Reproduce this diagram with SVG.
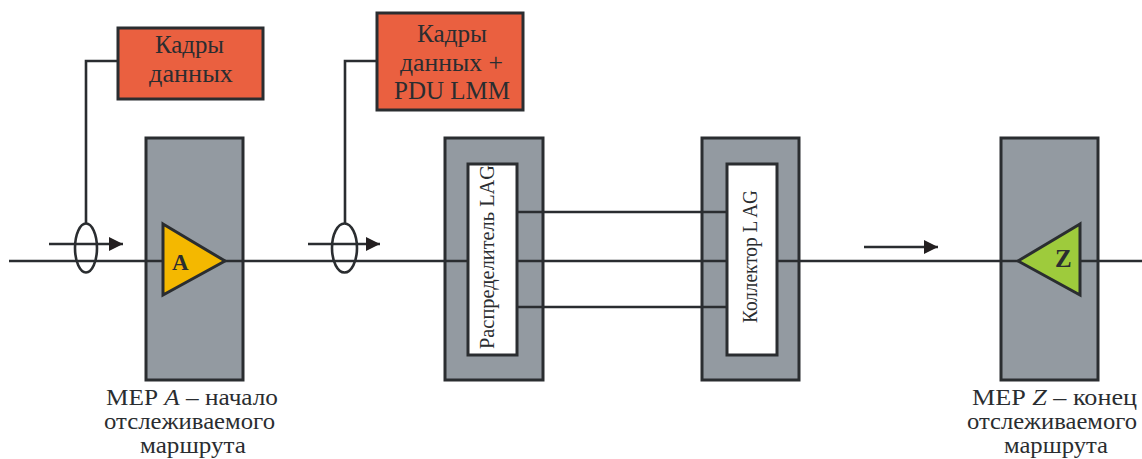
<svg xmlns="http://www.w3.org/2000/svg" width="1142" height="459" viewBox="0 0 1142 459">
<defs>
<marker id="arr" markerUnits="userSpaceOnUse" markerWidth="15" markerHeight="14" refX="14" refY="7" orient="auto"><path d="M0 0L14 7L0 14Z" fill="#231f20"/></marker>
</defs>
<style>
.box{fill:#939aa1;stroke:#2a2d30;stroke-width:3}
.tag{fill:#ea6040;stroke:#2a2d30;stroke-width:3}
.in{fill:#fff;stroke:#2a2d30;stroke-width:3}
.ln{fill:none;stroke:#2a2d30;stroke-width:2.4}
.lw{fill:none;stroke:#2a2d30;stroke-width:2.6}
.t{font-family:"Liberation Serif",serif;font-size:25px;fill:#2a2d30}
.s{font-size:23px}
.v{font-family:"Liberation Serif",serif;font-size:20px;fill:#2a2d30}
.b{font-family:"Liberation Serif",serif;font-weight:bold;fill:#2a2d30}
</style>
<g id="node-a-box"><rect class="box" x="146" y="138" width="97" height="242"/></g>
<g id="node-dist-box"><rect class="box" x="445" y="138" width="98" height="242"/></g>
<g id="node-coll-box"><rect class="box" x="702" y="138" width="97" height="242"/></g>
<g id="node-z-box"><rect class="box" x="1001" y="138" width="97" height="242"/></g>
<g id="connectors">
<path class="ln" d="M9 261H163M225 261H468M517 261H727M777 261H1018M1080 261H1142"/>
<path class="ln" d="M517 212H727M517 307H727"/>
<path class="lw" d="M118 61H86V224M377 61H345V224"/>
<path class="lw" d="M49 244H123" marker-end="url(#arr)"/>
<path class="lw" d="M308 244H380" marker-end="url(#arr)"/>
<path class="lw" d="M864 247H938" marker-end="url(#arr)"/>
</g>
<g id="ring-a"><ellipse class="lw" cx="86" cy="248" rx="11" ry="24.500"/></g>
<g id="ring-b"><ellipse class="lw" cx="344.500" cy="248" rx="12.500" ry="24.500"/></g>
<g id="tag-a"><rect class="tag" x="118" y="28" width="145" height="71"/><text class="t" x="155" y="53" textLength="69" lengthAdjust="spacingAndGlyphs">Кадры</text><text class="t" x="149" y="82" textLength="84" lengthAdjust="spacingAndGlyphs">данных</text></g>
<g id="tag-b"><rect class="tag" x="377" y="13" width="146" height="97"/><text class="t" x="417" y="42" textLength="70" lengthAdjust="spacingAndGlyphs">Кадры</text><text class="t" x="400" y="71" textLength="103" lengthAdjust="spacingAndGlyphs">данных +</text><text class="t" x="394" y="99" textLength="116" lengthAdjust="spacingAndGlyphs">PDU LMM</text></g>
<g id="node-a"><path d="M163 224L225 261L163 295Z" fill="#f4b800" stroke="#2a2d30" stroke-width="3"/><text class="b" x="172" y="270" font-size="23">A</text></g>
<g id="node-z"><path d="M1080 224L1018 261L1080 295Z" fill="#9ecb3c" stroke="#2a2d30" stroke-width="3"/><text class="b" x="1055" y="267" font-size="25">Z</text></g>
<g id="node-dist"><rect class="in" x="468" y="164" width="49" height="191"/><text class="v" transform="translate(494 349) rotate(-90)" textLength="184" lengthAdjust="spacingAndGlyphs">Распределитель LAG</text></g>
<g id="node-coll"><rect class="in" x="727" y="164" width="50" height="191"/><text class="v" transform="translate(757 323) rotate(-90)" textLength="133" lengthAdjust="spacingAndGlyphs">Коллектор L AG</text></g>
<g id="label-a"><text class="t s" x="106" y="405" textLength="172" lengthAdjust="spacingAndGlyphs">МЕР <tspan font-style="italic">A</tspan> – начало</text><text class="t s" x="104" y="429" textLength="171" lengthAdjust="spacingAndGlyphs">отслеживаемого</text><text class="t s" x="140" y="453" textLength="106" lengthAdjust="spacingAndGlyphs">маршрута</text></g>
<g id="label-z"><text class="t s" x="972" y="405" textLength="165" lengthAdjust="spacingAndGlyphs">МЕР <tspan font-style="italic">Z</tspan> – конец</text><text class="t s" x="967" y="429" textLength="170" lengthAdjust="spacingAndGlyphs">отслеживаемого</text><text class="t s" x="1004" y="453" textLength="104" lengthAdjust="spacingAndGlyphs">маршрута</text></g>
</svg>
